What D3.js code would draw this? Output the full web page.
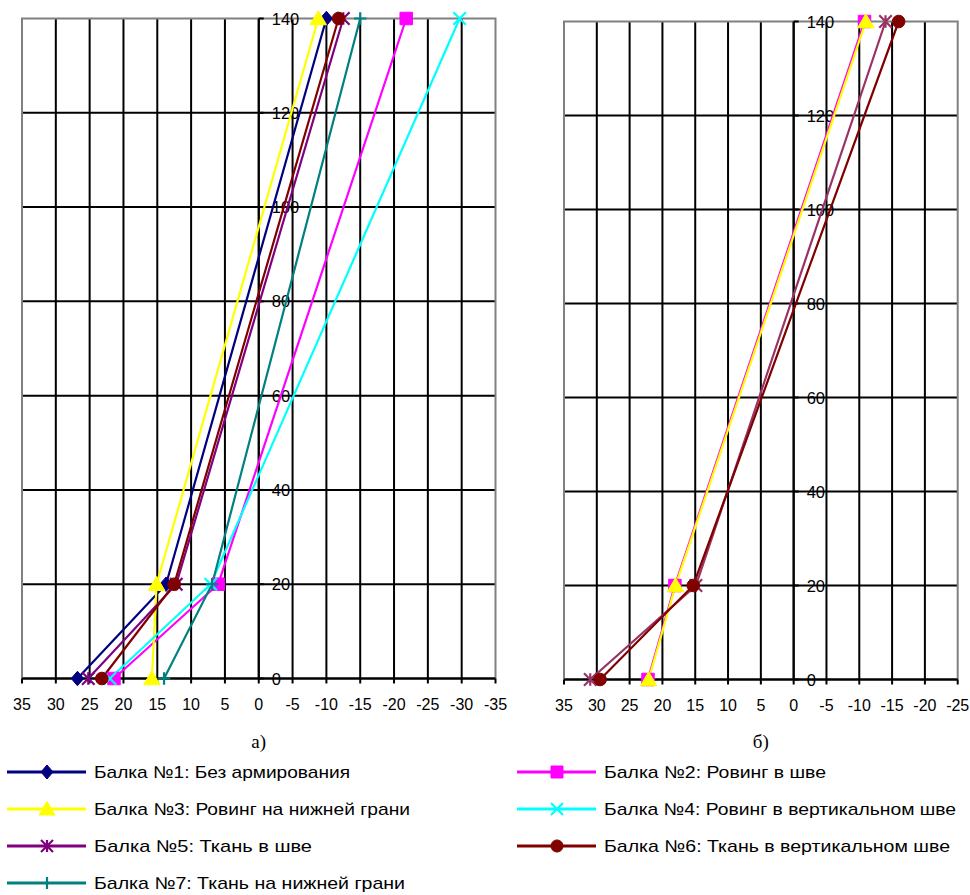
<!DOCTYPE html>
<html><head><meta charset="utf-8">
<script src="https://cdn.jsdelivr.net/npm/d3@7"></script>
<style>body{margin:0;background:#fff}svg{display:block}</style>
</head><body>
<svg id="c" width="970" height="895"></svg>
<script>
// ---- data ----
const heights = [0, 20, 140];
const xTicksA = [35,30,25,20,15,10,5,0,-5,-10,-15,-20,-25,-30,-35];
const xTicksB = [35,30,25,20,15,10,5,0,-5,-10,-15,-20,-25];
const yTicks = [0,20,40,60,80,100,120,140];
const seriesNames = ["Балка №1: Без армирования","Балка №2: Ровинг в шве","Балка №3: Ровинг на нижней грани","Балка №4: Ровинг в вертикальном шве","Балка №5: Ткань в шве","Балка №6: Ткань в вертикальном шве","Балка №7: Ткань на нижней грани"];
const seriesColors = ["#000080","#ff00ff","#ffff00","#00ffff","#800080","#800000","#008080"];
const seriesMarkers = ["diamond","square","triangle","x","star","circle","plus"];
// chart а)
const a1 = [26.8, 13.7, -10.0];
const a2 = [21.4, 6.0, -21.8];
const a3 = [15.8, 15.1, -8.8];
const a4 = [22.0, 7.1, -29.7];
const a5 = [25.2, 12.2, -12.5];
const a6 = [23.2, 12.5, -11.8];
const a7 = [14.0, 6.9, -15.0];
// chart б)
const b2 = [22.2, 18.1, -10.8];
const b3 = [22.1, 18.0, -11.0];
const b5 = [31.0, 14.9, -14.0];
const b6 = [29.5, 15.3, -16.0];

const svg = d3.select("#c");
const FONT = "'Liberation Sans', Arial, sans-serif";

function markerPath(type, s) {
  const h = s/2;
  switch(type){
    case "diamond": return `M0,${-h-1}L${h},0L0,${h+1}L${-h},0Z`;
    case "square": return `M${-h},${-h}H${h}V${h}H${-h}Z`;
    case "triangle": return `M0,${-h-1.5}L${h+2},${h}L${-h-2},${h}Z`;
    case "circle": return d3.symbol(d3.symbolCircle, s*s*0.8)();
    case "x": return `M${-h},${-h}L${h},${h}M${h},${-h}L${-h},${h}`;
    case "star": return `M${-h},${-h}L${h},${h}M${h},${-h}L${-h},${h}M0,${-h}V${h}`;
    case "plus": return `M${-h},0H${h}M0,${-h}V${h}`;
  }
}
function drawMarker(g, type, color, x, y, s) {
  const filled = !(type==="x"||type==="star"||type==="plus");
  g.append("path").attr("d", markerPath(type, s))
    .attr("transform", `translate(${x},${y})`)
    .attr("fill", filled ? color : "none")
    .attr("stroke", color).attr("stroke-width", filled ? 1 : 2.2);
}

function chart(cfg) {
  const x = d3.scaleLinear().domain([cfg.xTicks[0], cfg.xTicks[cfg.xTicks.length-1]]).range([cfg.x0, cfg.x1]);
  const y = d3.scaleLinear().domain([0,140]).range([cfg.y0, cfg.y1]);
  const g = svg.append("g");
  g.selectAll(".vg").data(cfg.xTicks.slice(1,-1)).join("line")
    .attr("x1", d=>x(d)).attr("x2", d=>x(d)).attr("y1", y(0)).attr("y2", y(140))
    .attr("stroke", "#000").attr("stroke-width", 2);
  g.selectAll(".hg").data(yTicks.slice(0,-1)).join("line")
    .attr("x1", x.range()[0]).attr("x2", x.range()[1]).attr("y1", d=>y(d)).attr("y2", d=>y(d))
    .attr("stroke", "#000").attr("stroke-width", 2);
  g.append("path").attr("d", `M${x.range()[0]},${y(0)}V${y(140)}H${x.range()[1]}V${y(0)}`)
    .attr("fill","none").attr("stroke","#808080").attr("stroke-width",2);
  g.append("line").attr("x1", x.range()[0]).attr("x2", x.range()[1]).attr("y1", y(0)).attr("y2", y(0))
    .attr("stroke","#000").attr("stroke-width",2);
  g.selectAll(".xt").data(cfg.xTicks).join("line")
    .attr("x1", d=>x(d)).attr("x2", d=>x(d)).attr("y1", y(0)).attr("y2", y(0)+5)
    .attr("stroke","#000").attr("stroke-width",2);
  g.selectAll(".xl").data(cfg.xTicks).join("text")
    .attr("x", d=>x(d)).attr("y", y(0)+31).attr("text-anchor","middle")
    .attr("font-family", FONT).attr("font-size", 16)
    .text(d=>d);
  g.append("line").attr("x1", x(0)).attr("x2", x(0)).attr("y1", y(0)).attr("y2", y(140))
    .attr("stroke","#000").attr("stroke-width",2);
  g.selectAll(".yt").data(yTicks).join("line")
    .attr("x1", x(0)).attr("x2", x(0)+5).attr("y1", d=>y(d)).attr("y2", d=>y(d))
    .attr("stroke","#000").attr("stroke-width",2);
  g.selectAll(".yl").data(yTicks).join("text")
    .attr("x", x(0)+13).attr("y", d=>y(d)+6)
    .attr("font-family", FONT).attr("font-size", 16.5)
    .text(d=>d);
  const line = d3.line().x(d=>x(d[0])).y(d=>y(d[1]));
  cfg.series.forEach(s => {
    const pts = s.vals.map((v,i)=>[v, heights[i]]);
    g.append("path").attr("d", line(pts)).attr("fill","none")
      .attr("stroke", s.color).attr("stroke-width", 2.2);
  });
  cfg.series.forEach(s => {
    s.vals.forEach((v,i)=> drawMarker(g, s.marker, s.color, x(v), y(heights[i]), s.size));
  });
  svg.append("text").attr("x", (x.range()[0]+x.range()[1])/2).attr("y", 748)
    .attr("text-anchor","middle").attr("font-family","'Liberation Serif','Times New Roman',serif")
    .attr("font-size", 19).text(cfg.caption);
}

const S = (i, vals, color) => ({vals, color: color || seriesColors[i], marker: seriesMarkers[i], size: 12.5});

chart({
  xTicks: xTicksA, x0: 22, x1: 495.5, y0: 678.5, y1: 18.5, caption: "а)",
  series: [S(0,a1), S(1,a2), S(2,a3), S(3,a4), S(4,a5), S(5,a6), S(6,a7)]
});
chart({
  xTicks: xTicksB, x0: 564, x1: 957.7, y0: 679.5, y1: 21.5, caption: "б)",
  series: [S(1,b2), S(2,b3), S(4,b5,"#993366"), S(5,b6)]
});

const legRows = [772, 809, 846, 883];
const legCols = [7, 517];
const legLens = [256, 222, 316, 352, 218, 346, 311];
seriesNames.forEach((name, i) => {
  const col = i % 2, row = Math.floor(i/2);
  const lx = legCols[col], ly = legRows[row];
  const g = svg.append("g");
  g.append("line").attr("x1", lx).attr("x2", lx+79).attr("y1", ly).attr("y2", ly)
    .attr("stroke", seriesColors[i]).attr("stroke-width", 3);
  drawMarker(g, seriesMarkers[i], seriesColors[i], lx+40, ly, 12);
  g.append("text").attr("x", lx+87).attr("y", ly+6)
    .attr("font-family", FONT).attr("font-size", 17)
    .attr("textLength", legLens[i]).attr("lengthAdjust","spacingAndGlyphs")
    .text(name);
});
</script>
</body></html>
